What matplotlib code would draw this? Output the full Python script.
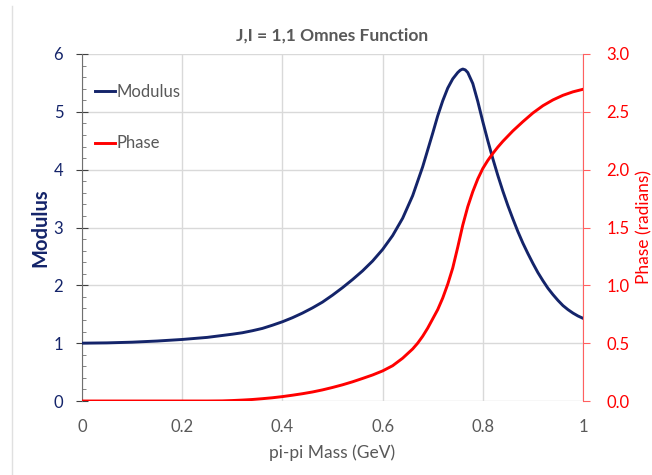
import matplotlib
matplotlib.use("Agg")
import matplotlib.pyplot as plt
from matplotlib.lines import Line2D
from matplotlib.ticker import MultipleLocator

plt.rcParams["font.family"] = ["Lato", "DejaVu Sans"]

NAVY = "#14246a"
RED = "#ff0000"
GREY_TXT = "#595959"

# pi-pi mass (GeV) and modulus of the Omnes function
mass_mod = [0.00, 0.05, 0.10, 0.15, 0.20, 0.25, 0.30, 0.32, 0.34, 0.36, 0.38,
            0.40, 0.42, 0.44, 0.46, 0.48, 0.50, 0.52, 0.54, 0.56, 0.58, 0.60,
            0.62, 0.64, 0.66, 0.68, 0.70, 0.71, 0.72, 0.73, 0.74, 0.75, 0.755,
            0.76, 0.765, 0.77, 0.78, 0.79, 0.80, 0.81, 0.82, 0.83, 0.84, 0.85,
            0.86, 0.87, 0.88, 0.89, 0.90, 0.91, 0.92, 0.93, 0.94, 0.95, 0.96,
            0.97, 0.98, 0.99, 1.00]
modulus = [1.00, 1.005, 1.017, 1.037, 1.064, 1.10, 1.155, 1.18, 1.215, 1.255,
           1.31, 1.37, 1.44, 1.52, 1.61, 1.71, 1.83, 1.96, 2.10, 2.25, 2.42,
           2.62, 2.86, 3.16, 3.55, 4.05, 4.63, 4.93, 5.19, 5.41, 5.57, 5.68,
           5.72, 5.74, 5.725, 5.68, 5.49, 5.18, 4.83, 4.50, 4.19, 3.90, 3.63,
           3.38, 3.15, 2.93, 2.73, 2.55, 2.38, 2.22, 2.08, 1.95, 1.84, 1.74,
           1.65, 1.58, 1.52, 1.47, 1.43]

# pi-pi mass (GeV) and phase (radians)
mass_ph = [0.00, 0.10, 0.20, 0.25, 0.28, 0.30, 0.32, 0.34, 0.36, 0.38, 0.40,
           0.42, 0.44, 0.46, 0.48, 0.50, 0.52, 0.54, 0.56, 0.58, 0.60, 0.62,
           0.64, 0.66, 0.67, 0.68, 0.69, 0.70, 0.71, 0.72, 0.73, 0.74, 0.75,
           0.76, 0.77, 0.78, 0.79, 0.80, 0.81, 0.82, 0.83, 0.84, 0.86, 0.88,
           0.90, 0.92, 0.94, 0.96, 0.98, 1.00]
phase = [0.0, 0.0, 0.0, 0.0, 0.001, 0.004, 0.008, 0.013, 0.02, 0.028, 0.038,
         0.05, 0.063, 0.078, 0.096, 0.117, 0.14, 0.166, 0.195, 0.225, 0.26,
         0.305, 0.37, 0.45, 0.50, 0.56, 0.63, 0.71, 0.79, 0.89, 1.01, 1.15,
         1.33, 1.52, 1.68, 1.81, 1.92, 2.01, 2.08, 2.14, 2.195, 2.245, 2.335,
         2.415, 2.49, 2.553, 2.603, 2.643, 2.673, 2.695]

fig = plt.figure(figsize=(6.52, 4.75), dpi=100)
ax = fig.add_axes([82 / 652, 74 / 475, 501 / 652, 347 / 475])
ax2 = ax.twinx()

ax.plot(mass_mod, modulus, color=NAVY, lw=2.1, label="Modulus", zorder=3,
        solid_joinstyle="round")
ax2.plot(mass_ph, phase, color=RED, lw=2.1, label="Phase", zorder=3,
         solid_joinstyle="round")

ax.set_xlim(0, 1)
ax.set_ylim(0, 6)
ax2.set_ylim(0, 3)
ax.yaxis.set_major_locator(MultipleLocator(1))
ax.yaxis.set_minor_locator(MultipleLocator(0.2))
ax.set_xticks([0, 0.2, 0.4, 0.6, 0.8, 1.0])
ax.set_xticklabels(["0", "0.2", "0.4", "0.6", "0.8", "1"])
ax2.set_yticks([0, 0.5, 1.0, 1.5, 2.0, 2.5, 3.0])
ax2.set_yticklabels(["0.0", "0.5", "1.0", "1.5", "2.0", "2.5", "3.0"])

ax.grid(True, which="major", color="#d9d9d9", lw=1)
ax.set_axisbelow(True)

for a in (ax, ax2):
    a.spines["top"].set_visible(False)
    a.spines["bottom"].set_visible(False)
ax.spines["right"].set_visible(False)
ax2.spines["left"].set_visible(False)
ax.spines["left"].set_color("#707070")
ax2.spines["right"].set_color("#ff6060")

ax.tick_params(axis="x", length=0, pad=13, labelsize=12, labelcolor=GREY_TXT)
ax.tick_params(axis="y", which="major", direction="inout", length=9,
               color="#404040", labelsize=12, labelcolor=NAVY, pad=9)
ax.tick_params(axis="y", which="minor", direction="in", length=3,
               color="#707070")
ax2.tick_params(axis="y", direction="out", length=5, color="#ff6060",
                labelsize=12, labelcolor=RED, pad=12)

ax.set_xlabel("pi-pi Mass (GeV)", fontsize=12.5, color=GREY_TXT, labelpad=7)
ax.set_ylabel("Modulus", fontsize=14.5, color=NAVY, fontweight="bold",
              labelpad=2)
ax2.set_ylabel("Phase (radians)", fontsize=12.5, color=RED, labelpad=5)

ax.set_title("J,I = 1,1 Omnes Function", fontsize=12.5, fontweight="bold",
             color=GREY_TXT, pad=10)

h1, l1 = ax.get_legend_handles_labels()
h2, l2 = ax2.get_legend_handles_labels()
leg = ax2.legend(h1 + h2, l1 + l2, loc="upper left",
                 bbox_to_anchor=(0.013, 0.934), frameon=False, fontsize=12,
                 handlelength=1.2, handletextpad=0.1, labelspacing=2.15,
                 borderaxespad=0)
for t in leg.get_texts():
    t.set_color(GREY_TXT)

# faint chart-area border on the left
fig.add_artist(Line2D([12 / 652, 12 / 652], [0, 1 - 6 / 475],
                      color="#e0e0e0", lw=1))

fig.savefig("out.png", dpi=100)
